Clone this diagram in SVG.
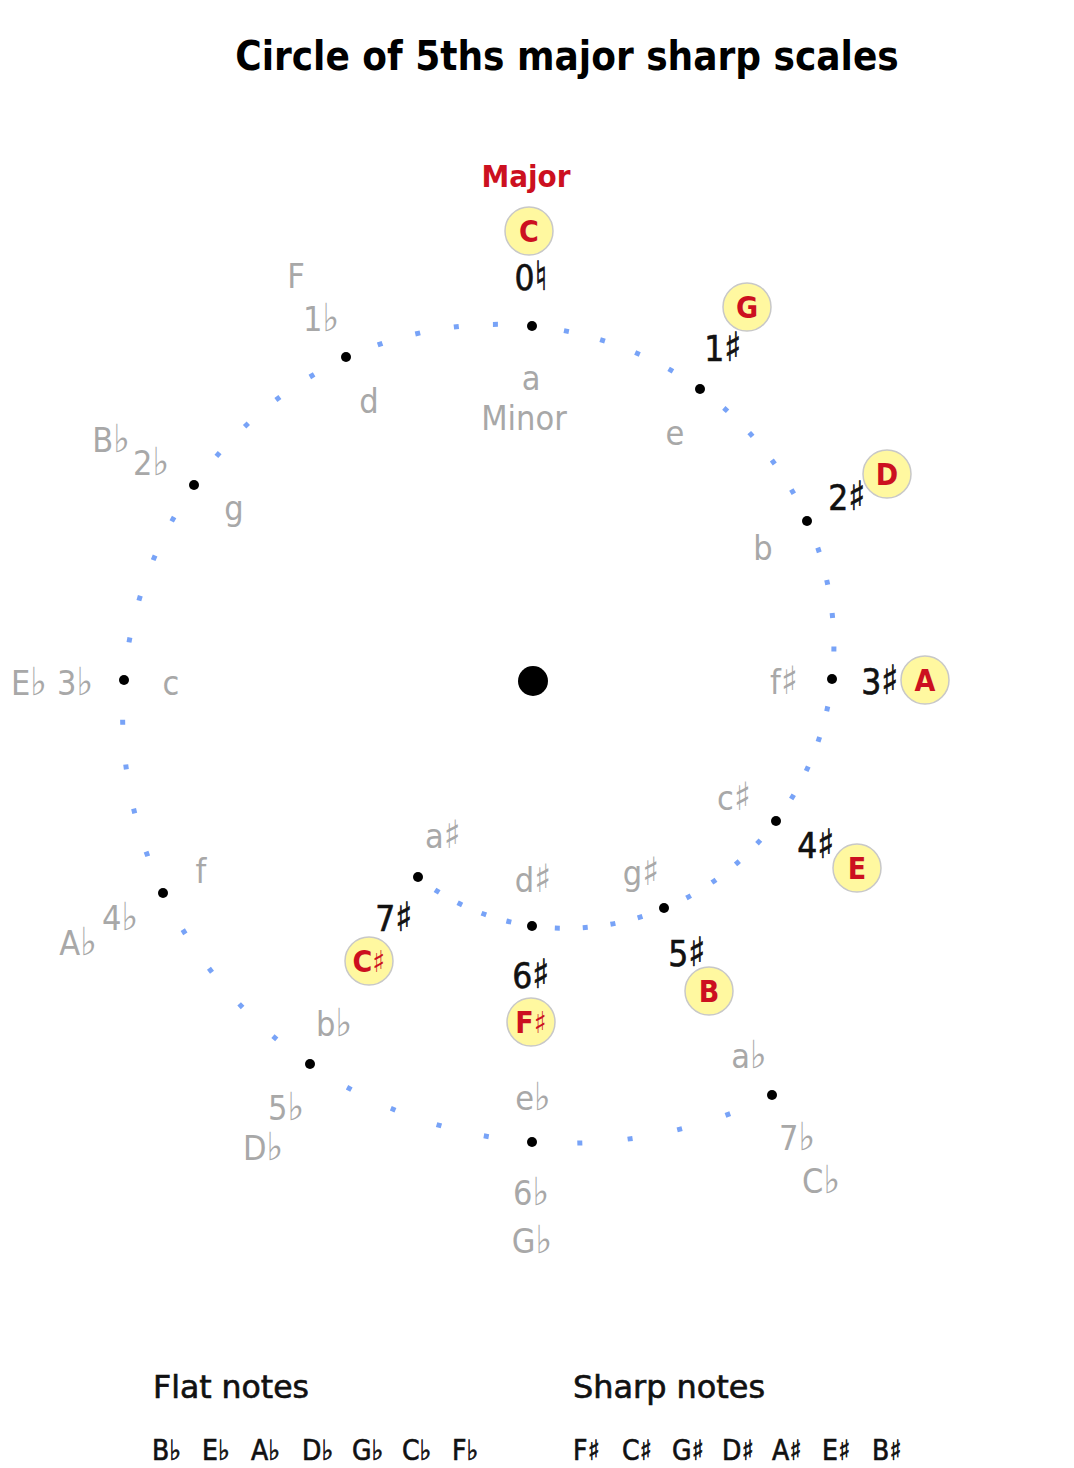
<svg xmlns="http://www.w3.org/2000/svg" width="1074" height="1468" viewBox="0 0 1074 1468">
<style>
text{font-family:"DejaVu Sans Condensed","DejaVu Sans","Liberation Sans",sans-serif;font-stretch:condensed;text-anchor:middle}
.title{font-size:40px;font-weight:bold;fill:#000}
.maj{font-size:31px;font-weight:bold;fill:#cc1020}
.key{font-size:30px;font-weight:bold;fill:#cc1020}
.cnt{font-size:35px;fill:#111;stroke:#111;stroke-width:0.6}
.gray{font-size:34px;fill:#a8a8a8}
.leg{font-size:32px;fill:#111;stroke:#111;stroke-width:0.6;text-anchor:start}
.legn{font-size:28px;fill:#111;stroke:#111;stroke-width:0.6;text-anchor:start}
.acc{font-size:115%}
.kc{fill:#fff8a0;stroke:#c8c8c8;stroke-width:1.5}
.dot{fill:#000}
.sp{fill:none;stroke:#78a3f7;stroke-width:5}
</style>
<rect width="1074" height="1468" fill="#fff"/>
<text class="title" x="567" y="70">Circle of 5ths major sharp scales</text>

<g id="connectors">
<path class="sp" stroke-dasharray="0 45.46 5 45.46 5 45.46 5 45.46 5 999" d="M772,1095.7 C696.5,1132.4 612.6,1148 532,1142"/>
<path class="sp" stroke-dasharray="0 43.58 5 43.58 5 43.58 5 43.58 5 999" d="M532,1142 C451.4,1136 374.1,1108.5 310,1064.5"/>
<path class="sp" stroke-dasharray="0 41.7 5 41.7 5 41.7 5 41.7 5 999" d="M310,1064.5 C245.9,1020.6 195.1,960.4 163.1,893"/>
<path class="sp" stroke-dasharray="0 39.8 5 39.8 5 39.8 5 39.8 5 999" d="M163.1,893 C131.1,825.6 118,751.2 124,680"/>
<path class="sp" stroke-dasharray="0 37.94 5 37.94 5 37.94 5 37.94 5 999" d="M124,680 C130,608.8 155.1,541 194.3,485"/>
<path class="sp" stroke-dasharray="0 36.06 5 36.06 5 36.06 5 36.06 5 999" d="M194.3,485 C233.5,429.1 286.8,385.1 346,357.8"/>
<path class="sp" stroke-dasharray="0 34.18 5 34.18 5 34.18 5 34.18 5 999" d="M346,357.8 C405.2,330.5 470.2,320 532,326"/>
<path class="sp" stroke-dasharray="0 32.3 5 32.3 5 32.3 5 32.3 5 999" d="M532,326 C593.8,332 652.2,354.5 700,389"/>
<path class="sp" stroke-dasharray="0 30.44 5 30.44 5 30.44 5 30.44 5 999" d="M700,389 C747.8,423.5 784.9,469.9 807.4,521"/>
<path class="sp" stroke-dasharray="0 28.56 5 28.56 5 28.56 5 28.56 5 999" d="M807.4,521 C830,572.1 838,627.6 832,680"/>
<path class="sp" stroke-dasharray="0 26.68 5 26.68 5 26.68 5 26.68 5 999" d="M832,680 C826,732.4 806,781.4 776.2,821"/>
<path class="sp" stroke-dasharray="0 24.8 5 24.8 5 24.8 5 24.8 5 999" d="M776.2,821 C746.4,860.6 706.9,890.8 664,908.6"/>
<path class="sp" stroke-dasharray="0 22.94 5 22.94 5 22.94 5 22.94 5 999" d="M664,908.6 C621.1,926.4 574.9,932 532,926"/>
<path class="sp" stroke-dasharray="0 21.08 5 21.08 5 21.08 5 21.08 5 999" d="M532,926 C489.1,920 449.5,902.6 418,877.5"/>
</g>

<g id="center"><circle cx="533" cy="681" r="15" fill="#000"/></g>

<g id="C">
<text class="maj" x="526" y="187">Major</text>
<circle class="kc" cx="529" cy="231" r="24"/><text class="key" x="529" y="242">C</text>
<text class="cnt" x="531" y="290">0<tspan class="acc">♮</tspan></text>
<circle class="dot" cx="532" cy="326" r="5"/>
<text class="gray" x="531" y="390">a</text>
<text class="gray" x="524" y="430">Minor</text>
</g>
<g id="G">
<circle class="kc" cx="747" cy="307" r="24"/><text class="key" x="747" y="318">G</text>
<text class="cnt" x="723" y="361">1<tspan class="acc">♯</tspan></text>
<circle class="dot" cx="700" cy="389" r="5"/>
<text class="gray" x="675" y="445">e</text>
</g>
<g id="D">
<circle class="kc" cx="887" cy="474" r="24"/><text class="key" x="887" y="485">D</text>
<text class="cnt" x="847" y="510">2<tspan class="acc">♯</tspan></text>
<circle class="dot" cx="807" cy="521" r="5"/>
<text class="gray" x="763" y="560">b</text>
</g>
<g id="A">
<circle class="kc" cx="925" cy="680" r="24"/><text class="key" x="925" y="691">A</text>
<text class="cnt" x="880" y="694">3<tspan class="acc">♯</tspan></text>
<circle class="dot" cx="832" cy="679" r="5"/>
<text class="gray" x="784" y="694">f<tspan class="acc">♯</tspan></text>
</g>
<g id="E">
<circle class="kc" cx="857" cy="868" r="24"/><text class="key" x="857" y="879">E</text>
<text class="cnt" x="816" y="858">4<tspan class="acc">♯</tspan></text>
<circle class="dot" cx="776" cy="821" r="5"/>
<text class="gray" x="734" y="810">c<tspan class="acc">♯</tspan></text>
</g>
<g id="B">
<circle class="kc" cx="709" cy="991" r="24"/><text class="key" x="709" y="1002">B</text>
<text class="cnt" x="687" y="966">5<tspan class="acc">♯</tspan></text>
<circle class="dot" cx="664" cy="908" r="5"/>
<text class="gray" x="641" y="885">g<tspan class="acc">♯</tspan></text>
</g>
<g id="Fsharp">
<circle class="kc" cx="531" cy="1022" r="24"/><text class="key" x="531" y="1033">F♯</text>
<text class="cnt" x="531" y="988">6<tspan class="acc">♯</tspan></text>
<circle class="dot" cx="532" cy="926" r="5"/>
<text class="gray" x="533" y="892">d<tspan class="acc">♯</tspan></text>
</g>
<g id="Csharp">
<circle class="kc" cx="369" cy="961" r="24"/><text class="key" x="369" y="972">C♯</text>
<text class="cnt" x="394" y="931">7<tspan class="acc">♯</tspan></text>
<circle class="dot" cx="418" cy="877" r="5"/>
<text class="gray" x="443" y="848">a<tspan class="acc">♯</tspan></text>
</g>

<g id="F">
<text class="gray" x="296" y="288">F</text>
<text class="gray" x="321" y="331">1<tspan class="acc">♭</tspan></text>
<circle class="dot" cx="346" cy="357" r="5"/>
<text class="gray" x="369" y="413">d</text>
</g>
<g id="Bflat">
<text class="gray" x="111" y="452">B<tspan class="acc">♭</tspan></text>
<text class="gray" x="151" y="475">2<tspan class="acc">♭</tspan></text>
<circle class="dot" cx="194" cy="485" r="5"/>
<text class="gray" x="234" y="520">g</text>
</g>
<g id="Eflat">
<text class="gray" x="29" y="695">E<tspan class="acc">♭</tspan></text>
<text class="gray" x="75" y="695">3<tspan class="acc">♭</tspan></text>
<circle class="dot" cx="124" cy="680" r="5"/>
<text class="gray" x="171" y="695">c</text>
</g>
<g id="Aflat">
<text class="gray" x="201" y="883">f</text>
<circle class="dot" cx="163" cy="893" r="5"/>
<text class="gray" x="120" y="930">4<tspan class="acc">♭</tspan></text>
<text class="gray" x="78" y="955">A<tspan class="acc">♭</tspan></text>
</g>
<g id="Dflat">
<text class="gray" x="334" y="1036">b<tspan class="acc">♭</tspan></text>
<circle class="dot" cx="310" cy="1064" r="5"/>
<text class="gray" x="286" y="1120">5<tspan class="acc">♭</tspan></text>
<text class="gray" x="263" y="1160">D<tspan class="acc">♭</tspan></text>
</g>
<g id="Gflat">
<text class="gray" x="533" y="1110">e<tspan class="acc">♭</tspan></text>
<circle class="dot" cx="532" cy="1142" r="5"/>
<text class="gray" x="531" y="1205">6<tspan class="acc">♭</tspan></text>
<text class="gray" x="532" y="1253">G<tspan class="acc">♭</tspan></text>
</g>
<g id="Cflat">
<text class="gray" x="749" y="1068">a<tspan class="acc">♭</tspan></text>
<circle class="dot" cx="772" cy="1095" r="5"/>
<text class="gray" x="797" y="1150">7<tspan class="acc">♭</tspan></text>
<text class="gray" x="821" y="1193">C<tspan class="acc">♭</tspan></text>
</g>

<g id="legend-flat">
<text class="leg" x="153" y="1398" textLength="156" lengthAdjust="spacingAndGlyphs">Flat notes</text>
<text class="legn" x="152" y="1460">B♭</text>
<text class="legn" x="202" y="1460">E♭</text>
<text class="legn" x="251" y="1460">A♭</text>
<text class="legn" x="302" y="1460">D♭</text>
<text class="legn" x="352" y="1460">G♭</text>
<text class="legn" x="402" y="1460">C♭</text>
<text class="legn" x="452" y="1460">F♭</text>
</g>
<g id="legend-sharp">
<text class="leg" x="573" y="1398" textLength="192" lengthAdjust="spacingAndGlyphs">Sharp notes</text>
<text class="legn" x="573" y="1460">F♯</text>
<text class="legn" x="622" y="1460">C♯</text>
<text class="legn" x="672" y="1460">G♯</text>
<text class="legn" x="722" y="1460">D♯</text>
<text class="legn" x="772" y="1460">A♯</text>
<text class="legn" x="822" y="1460">E♯</text>
<text class="legn" x="872" y="1460">B♯</text>
</g>
</svg>
